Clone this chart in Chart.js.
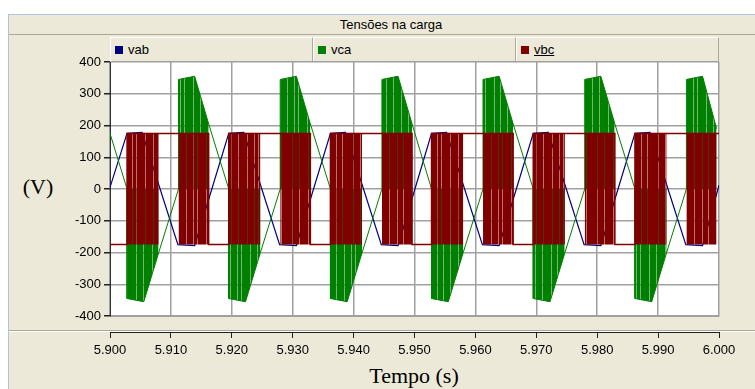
<!DOCTYPE html>
<html>
<head>
<meta charset="utf-8">
<script src="https://cdn.jsdelivr.net/npm/chart.js@4.4.1/dist/chart.umd.min.js"></script>
<style>
  body { margin: 0; width: 755px; height: 389px; background: #fff; position: relative; overflow: hidden;
         font-family: "Liberation Sans", Arial, sans-serif; }
  #quadro { position: absolute; left: 8px; top: 14px; width: 747px; height: 375px; background: #ece9d8;
            border-left: 1px solid #b4c3dc; border-top: 1px solid #b4c3dc; }
  #titulo { position: absolute; left: 9px; top: 15px; width: 746px; height: 19px; border-bottom: 1px solid #aca899; }
  #titulo span { position: absolute; left: 382px; top: 2px; transform: translateX(-50%); font-size: 13px; color: #000; white-space: nowrap; }
  .legenda { position: absolute; top: 37px; height: 23px; width: 201px; background: #ece9d8;
             border: 1px solid; border-color: #fff #aca899 #aca899 #fff; font-size: 13px; color: #000; }
  .legenda i { position: absolute; left: 4px; top: 8px; width: 8px; height: 8px; }
  .legenda span { position: absolute; left: 17px; top: 4px; }
  #separador { position: absolute; left: 9px; top: 330px; width: 746px; height: 1px; background: #aca899;
               border-bottom: 1px solid #fff; }
  .tituloEixo { position: absolute; font-family: "Liberation Serif", "Times New Roman", serif; font-size: 22px; color: #000;
                transform: translate(-50%, -50%); white-space: nowrap; }
  #grafico { position: absolute; left: 0; top: 40px; }
</style>
</head>
<body>
<div id="quadro"></div>
<div id="titulo"><span>Tensões na carga</span></div>
<div id="separador"></div>
<div class="legenda" style="left:110px"><i style="background:#000080"></i><span>vab</span></div>
<div class="legenda" style="left:313px"><i style="background:#008000"></i><span>vca</span></div>
<div class="legenda" style="left:516px"><i style="background:#800000"></i><span style="text-decoration:underline">vbc</span></div>
<div class="tituloEixo" style="left:38px; top:187px">(V)</div>
<div class="tituloEixo" style="left:414px; top:376px">Tempo (s)</div>
<canvas id="grafico" width="755" height="330"></canvas>

<script>
// tensões de linha na carga (V) x tempo (s)
const tempoVab = [5.9, 5.9028, 5.90526, 5.91115, 5.9139, 5.9195, 5.92196, 5.92785, 5.9306,
  5.9362, 5.93866, 5.94455, 5.9473, 5.9528, 5.95526, 5.96115, 5.9639, 5.9695, 5.97196, 5.97785, 5.9806,
  5.9862, 5.98866, 5.99455, 5.9973, 6.0];
const vab = [5, 175, 178, -175, -178, 175, 178, -175, -178,
  175, 178, -175, -178, 175, 178, -175, -178, 175, 178, -175, -178,
  175, 178, -175, -178, 12];

const tempoVca = [5.9,
  5.9028, 5.9028, 5.90555, 5.908, 5.91125, 5.91125, 5.9139, 5.9162,
  5.9195, 5.9195, 5.92225, 5.9247, 5.92795, 5.92795, 5.9306, 5.9329,
  5.9362, 5.9362, 5.93895, 5.9414, 5.94465, 5.94465, 5.9473, 5.9496,
  5.9528, 5.9528, 5.95555, 5.958, 5.96125, 5.96125, 5.9639, 5.9662,
  5.9695, 5.9695, 5.97225, 5.9747, 5.97795, 5.97795, 5.9806, 5.9829,
  5.9862, 5.9862, 5.98895, 5.9914, 5.99465, 5.99465, 5.9973, 5.9996];
const vca = [175,
  0, -345, -355, -200, 0, 345, 355, 205,
  0, -345, -355, -200, 0, 345, 355, 205,
  0, -345, -355, -200, 0, 345, 355, 205,
  0, -345, -355, -200, 0, 345, 355, 205,
  0, -345, -355, -200, 0, 345, 355, 205,
  0, -345, -355, -200, 0, 345, 355, 190];

const tempoVbc = [5.9, 5.9028, 5.9028, 5.9162, 5.9162, 5.9195, 5.9195, 5.9329, 5.9329, 5.9362,
  5.9362, 5.9496, 5.9496, 5.9528, 5.9528, 5.9662, 5.9662, 5.9695, 5.9695, 5.9829, 5.9829, 5.9862, 5.9862, 6.0];
const vbc = [-175, -175, 175, 175, -175, -175, 175, 175, -175, -175,
  175, 175, -175, -175, 175, 175, -175, -175, 175, 175, -175, -175, 175, 175];

// janelas de chaveamento (PWM)
const pulsoInicio = [5.9028, 5.91125, 5.9195, 5.92795, 5.9362, 5.94465, 5.9528, 5.96125, 5.9695, 5.97795, 5.9862, 5.99465];
const pulsoFim = [5.908, 5.9162, 5.9247, 5.9329, 5.9414, 5.9496, 5.958, 5.9662, 5.9747, 5.9829, 5.9914, 5.9996];
const amplitudePulso = 175;

const canvas = document.getElementById("grafico");
const ctx = canvas.getContext("2d");

function pontos(tempos, valores) {
  return tempos.map((t, i) => ({ x: t, y: valores[i] }));
}

// textura listrada para as regioes chaveadas
function listras(cor, claras, largura, alfa) {
  var c = document.createElement("canvas");
  c.width = largura;
  c.height = 4;
  var g = c.getContext("2d");
  g.fillStyle = cor;
  g.fillRect(0, 0, largura, 4);
  for (let i = 0; i < claras.length; i++) {
    g.clearRect(claras[i], 0, 1, 4);
    g.globalAlpha = alfa;
    g.fillRect(claras[i], 0, 1, 4);
    g.globalAlpha = 1;
  }
  return ctx.createPattern(c, "repeat");
}

function pulsosVbc() {
  var lista = [];
  for (let i = 0; i < pulsoInicio.length; i++) {
    lista.push({ x: pulsoInicio[i], y: amplitudePulso });
    lista.push({ x: pulsoFim[i], y: amplitudePulso });
    lista.push({ x: pulsoFim[i], y: null });
  }
  return lista;
}

function pulsosVca() {
  var lista = [];
  for (let i = 0; i < pulsoInicio.length; i++) {
    for (let j = 0; j < tempoVca.length; j++) {
      if (tempoVca[j] >= pulsoInicio[i] - 1e-7 && tempoVca[j] <= pulsoFim[i] + 1e-7) {
        lista.push({ x: tempoVca[j], y: vca[j] });
      }
    }
    lista.push({ x: pulsoFim[i], y: null });
  }
  return lista;
}

const fundoBranco = {
  id: "fundoBranco",
  beforeDraw(chart) {
    const a = chart.chartArea;
    chart.ctx.save();
    chart.ctx.fillStyle = "#fff";
    chart.ctx.fillRect(a.left, a.top, a.right - a.left, a.bottom - a.top);
    chart.ctx.restore();
  },
};

new Chart(canvas, {
  type: "line",
  data: {
    datasets: [
      {
        label: "vbc",
        data: pontos(tempoVbc, vbc),
        borderColor: "#800000",
        borderWidth: 1.5,
        fill: false,
        order: 0,
      },
      {
        label: "vbc pwm",
        data: pulsosVbc(),
        borderColor: "#800000",
        borderWidth: 1,
        backgroundColor: listras("#800000", [3, 10, 14, 23, 31, 37, 48, 55], 61, 0.55),
        fill: { value: -amplitudePulso },
        order: 1,
      },
      {
        label: "vca",
        data: pontos(tempoVca, vca),
        borderColor: "#008000",
        borderWidth: 1,
        fill: false,
        order: 2,
      },
      {
        label: "vca pwm",
        data: pulsosVca(),
        borderWidth: 0,
        backgroundColor: listras("#008000", [2, 9, 13, 22, 29, 38, 44, 51], 57, 0.55),
        fill: { value: 0 },
        order: 3,
      },
      {
        label: "vab",
        data: pontos(tempoVab, vab),
        borderColor: "#000080",
        borderWidth: 1.2,
        fill: false,
        order: 4,
      },
    ],
  },
  options: {
    responsive: false,
    animation: false,
    spanGaps: false,
    elements: { point: { radius: 0 }, line: { tension: 0 } },
    layout: { padding: { left: 0, right: 36, top: 22, bottom: 8 } },
    plugins: { legend: { display: false }, tooltip: { enabled: false } },
    scales: {
      x: {
        type: "linear",
        min: 5.9,
        max: 6.0,
        weight: 0,
        ticks: { display: false, stepSize: 0.01 },
        grid: { color: "#a0a0a0", lineWidth: 1.5, drawTicks: false },
        border: { color: "#a0a0a0" },
        afterFit: (escala) => { escala.height = 16; },
      },
      x2: {
        type: "linear",
        position: "bottom",
        min: 5.9,
        max: 6.0,
        weight: 1,
        ticks: {
          stepSize: 0.01,
          autoSkip: false,
          maxRotation: 0,
          padding: 5,
          color: "#000",
          font: { family: "Liberation Sans", size: 13 },
          callback: (v) => v.toFixed(3),
        },
        grid: { drawOnChartArea: false, tickLength: 6, tickColor: "#202020" },
        border: { color: "#202020" },
        afterFit: (escala) => { escala.height = 30; },
      },
      y: {
        min: -400,
        max: 400,
        ticks: {
          stepSize: 100,
          padding: 3,
          color: "#000",
          font: { family: "Liberation Sans", size: 13 },
        },
        grid: { color: "#a0a0a0", lineWidth: 1.5, tickLength: 6, tickColor: "#202020" },
        border: { color: "#303030" },
        afterFit: (escala) => { escala.width = 110; },
      },
    },
  },
  plugins: [fundoBranco],
});
</script>
</body>
</html>
